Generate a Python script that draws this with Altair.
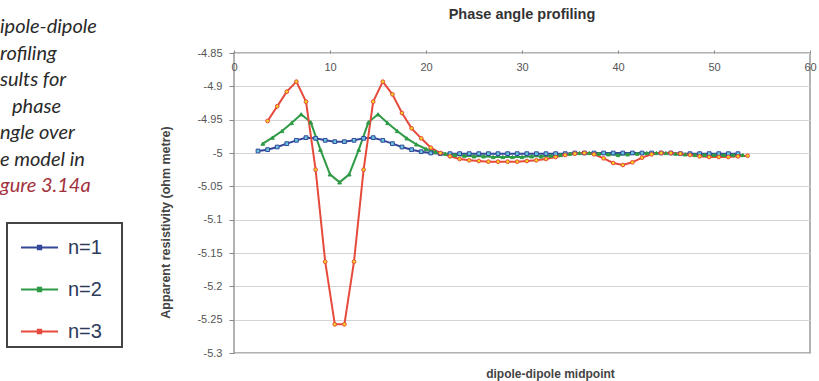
import altair as alt
import pandas as pd

series_names = ["n=1", "n=2", "n=3"]

x_n1 = [2.5 + i for i in range(51)]
x_n2 = [3.0 + i for i in range(51)]
x_n3 = [3.5 + i for i in range(51)]

v_n1 = [-4.997, -4.995, -4.991, -4.986, -4.981, -4.977, -4.978, -4.981, -4.983, -4.983,
        -4.981, -4.978, -4.977, -4.981, -4.986, -4.991, -4.995, -4.998, -5.000, -5.001,
        -5.001, -5.001, -5.001, -5.001, -5.001, -5.001, -5.001, -5.001, -5.001, -5.001,
        -5.001, -5.001, -5.001, -5.000, -5.000, -5.000, -5.000, -5.000, -5.000, -5.000,
        -5.000, -5.000, -5.000, -5.000, -5.001, -5.001, -5.001, -5.001, -5.001, -5.001,
        -5.001]
v_n2 = [-4.986, -4.977, -4.967, -4.955, -4.942, -4.954, -4.995, -5.032, -5.044, -5.032,
        -4.995, -4.954, -4.942, -4.955, -4.967, -4.978, -4.987, -4.994, -4.998, -5.001,
        -5.003, -5.004, -5.005, -5.005, -5.006, -5.006, -5.006, -5.006, -5.005, -5.005,
        -5.004, -5.003, -5.001, -5.000, -5.000, -5.001, -5.002, -5.003, -5.002, -5.001,
        -5.000, -5.000, -5.000, -5.001, -5.002, -5.003, -5.003, -5.003, -5.003, -5.003,
        -5.003]
v_n3 = [-4.952, -4.930, -4.908, -4.893, -4.923, -5.025, -5.163, -5.257, -5.257, -5.163,
        -5.025, -4.923, -4.893, -4.912, -4.940, -4.963, -4.978, -4.992, -5.000, -5.005,
        -5.009, -5.011, -5.012, -5.013, -5.013, -5.013, -5.013, -5.012, -5.011, -5.009,
        -5.006, -5.003, -5.001, -5.000, -5.002, -5.008, -5.015, -5.018, -5.014, -5.007,
        -5.002, -5.000, -5.000, -5.001, -5.003, -5.005, -5.006, -5.006, -5.006, -5.005,
        -5.004]

x_ticks = [0, 10, 20, 30, 40, 50, 60]
y_ticks = [-4.85, -4.9, -4.95, -5.0, -5.05, -5.1, -5.15, -5.2, -5.25, -5.3]

line_colors = ["#34489a", "#2f9a45", "#e64a3c"]
marker_fills = ["#66c6dc", "#2f9a45", "#f4d21e"]
marker_shapes = ["square", "triangle-up", "circle"]

caption_top = ["ipole-dipole", "rofiling", "sults for"]
caption_mid = "phase"
caption_bottom = ["ngle over", "e model in"]
caption_last = "gure 3.14a"

rows = []
for name, xs, vs in [("n=1", x_n1, v_n1), ("n=2", x_n2, v_n2), ("n=3", x_n3, v_n3)]:
    for xv, vv in zip(xs, vs):
        rows.append({"x": xv, "value": vv, "series": name})
df = pd.DataFrame(rows)

legend_path = "M-1,0L1,0M-0.09,-0.09L0.09,-0.09L0.09,0.09L-0.09,0.09Z"
legend = alt.Legend(
    orient="none", legendX=-227, legendY=170, title=None,
    symbolType=legend_path, symbolSize=1369, symbolStrokeWidth=2, symbolOffset=8,
    labelFontSize=20, labelFont="Liberation Sans", labelColor="#2d3a5a",
    labelExpr="datum.label + '\u2800'",
    strokeColor="#444444", fillColor="white", padding=5, rowPadding=12, labelOffset=9,
)

x_enc = alt.X(
    "x:Q",
    scale=alt.Scale(domain=[0, 60], nice=False, zero=False),
    axis=alt.Axis(
        orient="top", values=x_ticks, grid=False, domain=False,
        tickSize=3, tickColor="#888888", labelPadding=-17, labelBaseline="middle",
        labelFlush=False, labelOverlap=False, labelFontSize=11, labelColor="#555555",
        title="dipole-dipole midpoint", titleX=316, titleY=320, titleBaseline="middle",
        titleFontSize=12, titleFontWeight="bold", titleColor="#444444",
    ),
)
y_enc = alt.Y(
    "value:Q",
    scale=alt.Scale(domain=[-5.3, -4.85], nice=False, zero=False),
    axis=alt.Axis(
        values=y_ticks, grid=True, gridColor="#d4d4d4", gridWidth=1.2, domain=False,
        tickSize=5, tickColor="#888888", labelPadding=7, labelFontSize=11,
        labelColor="#555555",
        labelExpr="replace(format(datum.value, '.3~f'), '\u2212', '-')",
        title="Apparent resistivity (ohm metre)", titleX=-69, titleY=169,
        titleBaseline="middle",
        titleFontSize=12.5, titleFontWeight="bold", titleColor="#444444",
    ),
)
stroke_enc = alt.Stroke("series:N", scale=alt.Scale(domain=series_names, range=line_colors), legend=legend)
fill_enc = alt.Fill("series:N", scale=alt.Scale(domain=series_names, range=marker_fills), legend=legend)

lines = alt.Chart(df).mark_line(strokeWidth=2).encode(x=x_enc, y=y_enc, stroke=stroke_enc)

point_layers = []
for name, shp in zip(series_names, marker_shapes):
    point_layers.append(
        alt.Chart(df).transform_filter(alt.datum.series == name)
        .mark_point(filled=True, size=14, strokeWidth=1, opacity=1, shape=shp)
        .encode(x=x_enc, y=y_enc, stroke=stroke_enc, fill=fill_enc)
    )

one_row = pd.DataFrame({"k": [0]})
text_style = dict(align="left", baseline="alphabetic", font="Lato", fontStyle="italic",
                  fontSize=20, lineHeight=26.5)
cap1 = alt.Chart(one_row).mark_text(color="#2a2a2a", **text_style).encode(
    x=alt.value(-234), y=alt.value(-20), text=alt.value(caption_top))
cap2 = alt.Chart(one_row).mark_text(color="#2a2a2a", **text_style).encode(
    x=alt.value(-222), y=alt.value(59.5), text=alt.value(caption_mid))
cap3 = alt.Chart(one_row).mark_text(color="#2a2a2a", **text_style).encode(
    x=alt.value(-234), y=alt.value(86), text=alt.value(caption_bottom))
cap4 = alt.Chart(one_row).mark_text(color="#a3323c", **text_style).encode(
    x=alt.value(-234), y=alt.value(139), text=alt.value(caption_last))

chart = alt.layer(lines, *point_layers, cap1, cap2, cap3, cap4).properties(
    width=576, height=300,
    title=alt.Title("Phase angle profiling", font="Liberation Sans", fontSize=14.5,
                    fontWeight="bold", color="#333333", anchor="middle", offset=10, dy=15),
    autosize=alt.AutoSizeParams(type="none"),
    padding={"left": 234, "top": 53, "right": 9, "bottom": 28},
).configure_view(stroke="#9a9a9a", strokeWidth=1.5).configure_axis(
    labelFont="Liberation Sans", titleFont="Liberation Sans"
).configure_legend(strokeWidth=2)

chart.save("out.html", embed_options={"renderer": "svg", "actions": False})
